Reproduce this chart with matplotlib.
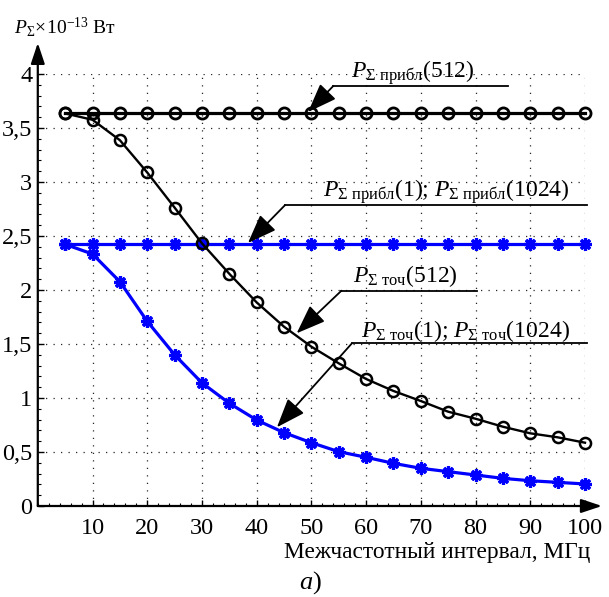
import matplotlib
matplotlib.use("Agg")
import matplotlib.pyplot as plt
from matplotlib.ticker import MultipleLocator, FixedLocator, FixedFormatter

plt.rcParams['font.family'] = ['Liberation Serif', 'DejaVu Serif']
plt.rcParams['mathtext.fontset'] = 'custom'
plt.rcParams['mathtext.rm'] = 'Liberation Serif'
plt.rcParams['mathtext.it'] = 'Liberation Serif:italic'
plt.rcParams['mathtext.bf'] = 'Liberation Serif:bold'

# ---- data ----
freq = [5, 10, 15, 20, 25, 30, 35, 40, 45, 50, 55, 60, 65, 70, 75, 80, 85, 90, 95, 100]
p_approx_512 = [3.635] * 20
p_exact_512 = [3.635, 3.576, 3.387, 3.088, 2.763, 2.432, 2.150, 1.885, 1.660, 1.475,
               1.321, 1.176, 1.065, 0.972, 0.873, 0.808, 0.734, 0.673, 0.636, 0.586]
p_approx_1 = [2.423] * 20
p_exact_1 = [2.423, 2.333, 2.077, 1.710, 1.400, 1.140, 0.951, 0.796, 0.679, 0.586,
             0.503, 0.451, 0.395, 0.349, 0.318, 0.287, 0.256, 0.234, 0.219, 0.204]

x_ticks = [10, 20, 30, 40, 50, 60, 70, 80, 90, 100]
y_ticks = [0, 0.5, 1, 1.5, 2, 2.5, 3, 3.5, 4]
y_tick_labels = ['0', '0,5', '1', '1,5', '2', '2,5', '3', '3,5', '4']

fig = plt.figure(figsize=(6.09, 5.97), dpi=100)
ax = fig.add_axes([37.8 / 609, 91 / 597, 547.2 / 609, 432 / 597])
ax.set_xlim(0, 100)
ax.set_ylim(0, 4)

blue = '#0000ff'
ax.plot(freq, p_approx_1, color=blue, lw=2.3, marker=(8, 2, 0), ms=9, mew=2.3, clip_on=False, zorder=3)
ax.plot(freq, p_exact_1, color=blue, lw=2.3, marker=(8, 2, 0), ms=9, mew=2.3, clip_on=False, zorder=3)
ax.plot(freq, p_approx_512, color='k', lw=2.3, marker='o', ms=8, mew=2.0, mfc='none', clip_on=False, zorder=4)
ax.plot(freq, p_exact_512, color='k', lw=1.7, marker='o', ms=8, mew=1.8, mfc='none', clip_on=False, zorder=4)

# axes styling
for s in ['top', 'right', 'left', 'bottom']:
    ax.spines[s].set_visible(False)
ax.xaxis.set_major_locator(FixedLocator(x_ticks))
ax.yaxis.set_major_locator(FixedLocator(y_ticks))
ax.yaxis.set_major_formatter(FixedFormatter(y_tick_labels))
ax.xaxis.set_minor_locator(MultipleLocator(2))
ax.yaxis.set_minor_locator(MultipleLocator(0.1))
ax.tick_params(which='major', direction='in', length=4, width=1, labelsize=17.5)
ax.tick_params(axis='x', which='major', pad=9)
ax.tick_params(axis='y', which='major', pad=4)
ax.tick_params(which='minor', direction='in', length=2, width=0.8)
ax.grid(True, which='major', color='0.15', lw=0.9, linestyle=(0, (1, 5)))

# axis arrows
arrow_kw = dict(arrowstyle='-|>,head_length=0.9,head_width=0.3', color='k', lw=1.6,
                shrinkA=0, shrinkB=0, mutation_scale=14)
ax.annotate('', xy=(0, 1.072), xytext=(0, 0), xycoords='axes fraction',
            textcoords='axes fraction', arrowprops=arrow_kw, annotation_clip=False)
ax.annotate('', xy=(1.031, 0), xytext=(0, 0), xycoords='axes fraction',
            textcoords='axes fraction', arrowprops=arrow_kw, annotation_clip=False)

# callouts
lead_kw = dict(arrowstyle='-|>,head_length=1.2,head_width=0.45', color='k', lw=1.3,
               shrinkA=0, shrinkB=0, mutation_scale=15)

def callout(text, tx, ty, x0, x1, ly, tip):
    ax.plot([x0, x1], [ly, ly], color='k', lw=1.3, clip_on=False, zorder=5)
    ax.annotate('', xy=tip, xytext=(x0, ly), arrowprops=lead_kw, annotation_clip=False, zorder=5)
    ax.text(tx, ty, text, ha='center', va='baseline', fontsize=17, zorder=6)

callout(r'$P_{\Sigma\ \mathrm{прибл}}$(512)', 68.6, 3.963, 54.0, 85.9, 3.889, (49.4, 3.648))
callout(r'$P_{\Sigma\ \mathrm{прибл}}$(1); $P_{\Sigma\ \mathrm{прибл}}$(1024)', 74.6, 2.861,
        45.2, 100.4, 2.787, (38.4, 2.435))
callout(r'$P_{\Sigma\ \mathrm{точ}}$(512)', 67.1, 2.074, 55.5, 80.2, 1.994, (47.3, 1.599))
callout(r'$P_{\Sigma\ \mathrm{точ}}$(1); $P_{\Sigma\ \mathrm{точ}}$(1024)', 78.2, 1.568,
        57.4, 100.3, 1.506, (43.7, 0.729))

# labels
fig.text(14 / 609, 1 - 33 / 597, r'$P_{\Sigma}\!\times\!10^{-13}$ Вт', fontsize=14,
         ha='left', va='baseline')
fig.text(590 / 609, 1 - 558 / 597, 'Межчастотный интервал, МГц', fontsize=16.8,
         ha='right', va='baseline')
fig.text(310 / 609, 1 - 589 / 597, r'$a$)', fontsize=19, ha='center', va='baseline')

fig.savefig('out.png', dpi=100)
